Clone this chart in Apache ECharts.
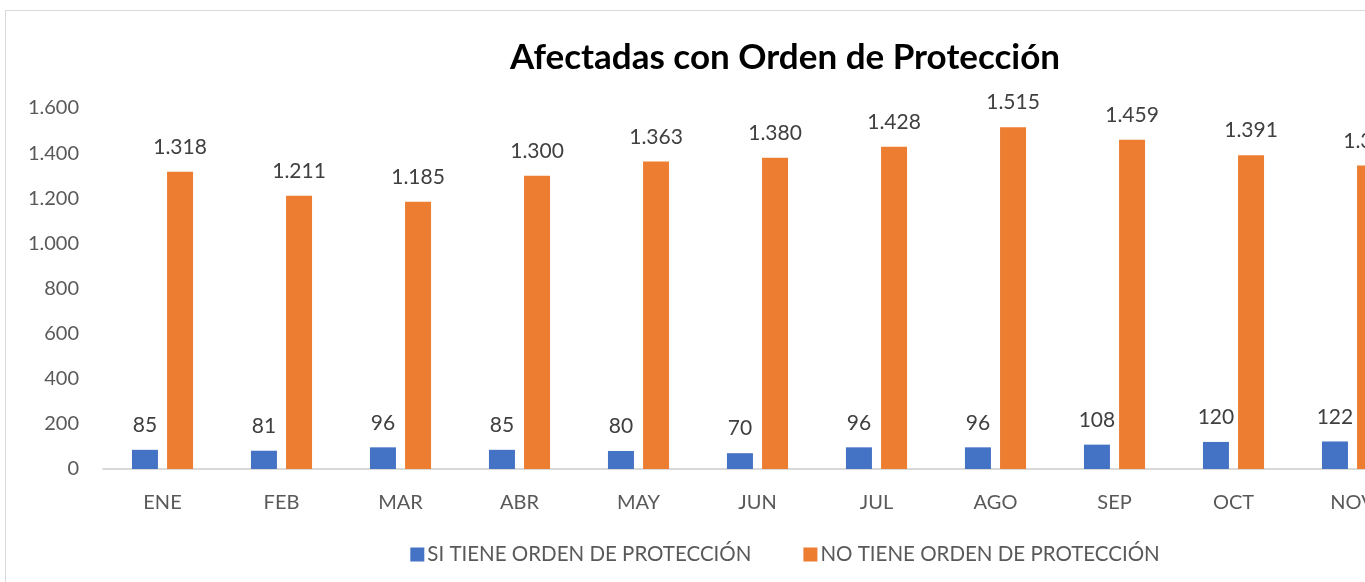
<!DOCTYPE html>
<html>
<head>
<meta charset="utf-8">
<title>Afectadas con Orden de Protección</title>
<script src="https://cdn.jsdelivr.net/npm/echarts@6/dist/echarts.min.js"></script>
<style>
  html, body {
    margin: 0;
    padding: 0;
    width: 1365px;
    height: 582px;
    overflow: hidden;
    background: #fff;
  }
  .chart-box {
    position: absolute;
    left: 5px;
    top: 10px;
    width: 1560px;
    height: 580px;
    border: 1px solid #d9d9d9;
    box-sizing: border-box;
  }
  #chart {
    width: 100%;
    height: 100%;
  }
</style>
</head>
<body>
<div class="chart-box">
  <div id="chart"></div>
</div>
<script>
// meses visibles en la imagen (DIC queda fuera del recorte)
const meses = ['ENE', 'FEB', 'MAR', 'ABR', 'MAY', 'JUN', 'JUL', 'AGO', 'SEP', 'OCT', 'NOV']
const siTiene = [85, 81, 96, 85, 80, 70, 96, 96, 108, 120, 122]
const noTiene = [1318, 1211, 1185, 1300, 1363, 1380, 1428, 1515, 1459, 1391, 1345]
const yTicks = [0, 200, 400, 600, 800, 1000, 1200, 1400, 1600]

const FONT = 'Lato, "Open Sans", "Noto Sans", sans-serif'

// 1.318 -> formato con punto de miles
const miles = v => String(v).replace(/\B(?=(\d{3})+(?!\d))/g, '.')

let chart = echarts.init(document.getElementById('chart'))

const labelStyle = {
  show: true,
  position: 'top',
  distance: 14,
  color: '#404040',
  fontFamily: FONT,
  fontSize: 21,
  formatter: p => miles(p.value)
}

const option = {
  animation: false,
  title: {
    text: 'Afectadas con Orden de Protección',
    left: 'center',
    top: 24,
    textStyle: {
      color: '#000',
      fontFamily: FONT,
      fontWeight: 'bold',
      fontSize: 35
    }
  },
  legend: {
    data: ['SI TIENE ORDEN DE PROTECCIÓN', 'NO TIENE ORDEN DE PROTECCIÓN'],
    left: 'center',
    top: 528,
    icon: 'rect',
    itemWidth: 14,
    itemHeight: 14,
    itemGap: 52,
    textStyle: {
      color: '#595959',
      fontFamily: FONT,
      fontSize: 20.5,
      padding: [0, 0, 0, -2]
    }
  },
  grid: {
    left: 97,
    top: 97,
    width: 1309,
    bottom: 120,
    containLabel: false
  },
  xAxis: {
    type: 'category',
    data: meses,
    axisTick: { show: false },
    axisLine: { lineStyle: { color: '#d9d9d9', width: 2 } },
    axisLabel: {
      color: '#595959',
      fontFamily: FONT,
      fontSize: 20,
      margin: 24
    }
  },
  yAxis: {
    type: 'value',
    min: yTicks[0],
    max: yTicks[yTicks.length - 1],
    interval: yTicks[1] - yTicks[0],
    splitLine: { show: false },
    axisLine: { show: false },
    axisTick: { show: false },
    axisLabel: {
      color: '#595959',
      fontFamily: FONT,
      fontSize: 20,
      margin: 24,
      formatter: v => miles(v)
    }
  },
  series: [
    {
      name: 'SI TIENE ORDEN DE PROTECCIÓN',
      type: 'bar',
      data: siTiene,
      barWidth: 26,
      barGap: '35%',
      itemStyle: { color: '#4472c4' },
      label: labelStyle
    },
    {
      name: 'NO TIENE ORDEN DE PROTECCIÓN',
      type: 'bar',
      data: noTiene,
      barWidth: 26,
      itemStyle: { color: '#ed7d31' },
      label: labelStyle
    }
  ]
}

chart.setOption(option)
</script>
</body>
</html>
